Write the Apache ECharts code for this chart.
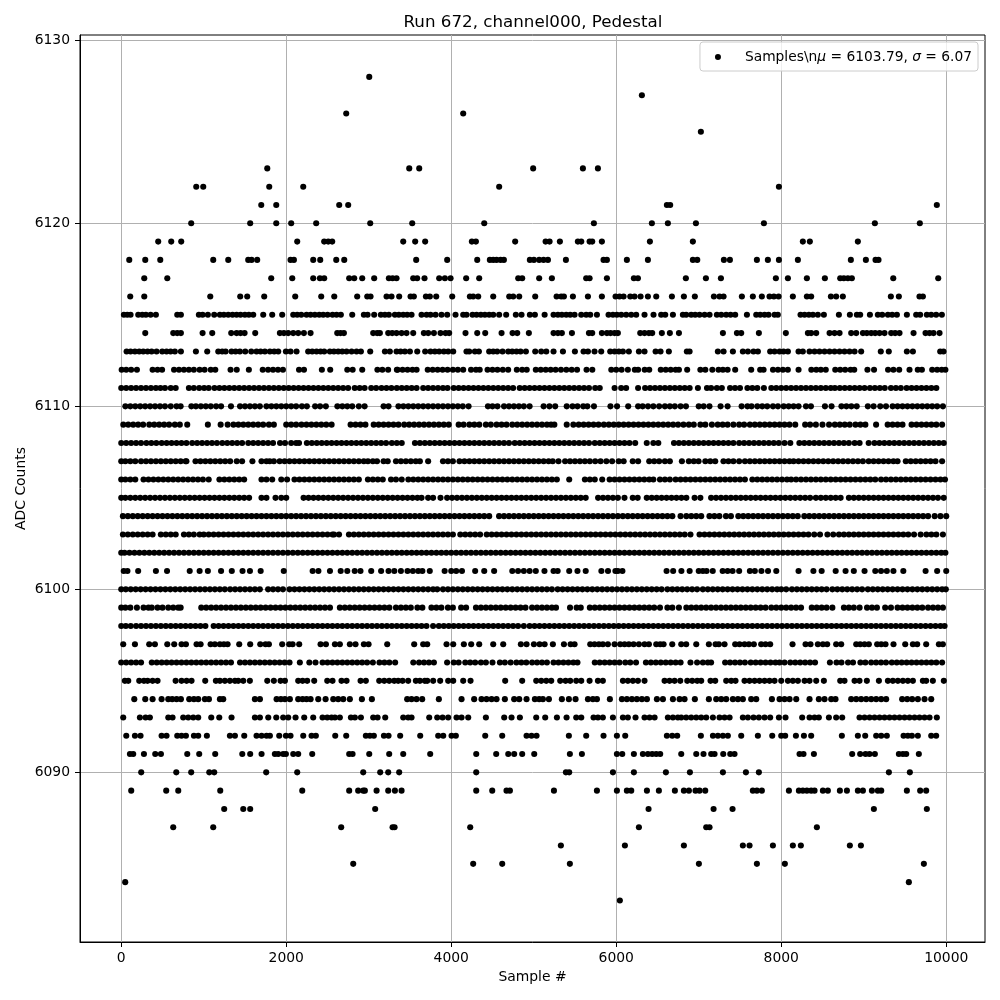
<!DOCTYPE html>
<html lang="en">
<head>
<meta charset="UTF-8">
<title>Run 672 Pedestal</title>
<style>
*{margin:0;padding:0}
#chart{width:1000px;height:1000px}
</style>
</head>
<body>
<div id="chart"></div>
<script src="https://cdn.jsdelivr.net/npm/echarts@6/dist/echarts.min.js"></script>
<script>
var xTicks = [0,2000,4000,6000,8000,10000];
var yTicks = [6090,6100,6110,6120,6130];

// sample numbers, one list per ADC level
var s6128 = [3006];
var s6127 = [6311];
var s6126 = [2727,4145];
var s6125 = [7026];
var s6123 = [1770,3491,3612,4993,5596,5778];
var s6122 = [909,994,1794,2206,4581,7972];
var s6121 = [1697,1879,2642,2751,6614,6654,9886];
var s6120 = [848,1563,1879,2060,2363,3018,3527,4400,5729,6432,6626,6966,7790,9135,9680];
var s6119 = [448,606,727,2133,2460,2509,2557,3418,3563,3684,4250,4299,4775,5144,5192,5317,5535,5576,5677,5709,5826,6408,6929,8262,8347,8929];
var s6118 = [97,291,473,1115,1297,1539,1580,1648,2052,2093,2327,2412,2606,2703,3575,3951,4315,4468,4509,4549,4598,4638,4953,5002,5066,5119,5172,5390,5846,5887,6129,6384,6929,6982,7305,7378,7705,7838,7972,8202,8844,9026,9143,9179];
var s6117 = [279,558,1818,2073,2327,2408,2460,2763,2824,2921,3066,3244,3289,3337,3539,3587,3676,3854,3923,3992,4181,4339,4812,4860,5066,5220,5636,5677,5887,6214,6263,6844,7087,7269,7935,8081,8311,8529,8715,8759,8808,8856,9358,9903];
var s6116 = [109,279,1079,1442,1527,1733,2109,2424,2582,2860,2982,3022,3216,3276,3369,3507,3547,3693,3741,3818,4012,4226,4266,4327,4509,4703,4751,4824,5018,5277,5333,5366,5475,5657,5826,5992,6040,6089,6170,6222,6295,6384,6485,6675,6820,6953,7184,7252,7301,7523,7656,7765,7858,7911,7968,8141,8311,8363,8602,8666,8747,9329,9426,9676,9717];
var s6115 = [32,73,113,206,255,299,356,420,679,723,941,986,1050,1127,1196,1244,1297,1349,1398,1446,1499,1547,1600,1721,1830,1951,2085,2133,2182,2246,2295,2347,2400,2448,2501,2561,2610,2662,2800,2941,2986,3066,3147,3196,3244,3317,3365,3418,3466,3519,3640,3701,3749,3810,3882,3951,4052,4145,4185,4258,4307,4359,4408,4460,4509,4581,4666,4783,4852,4953,5014,5132,5240,5293,5341,5394,5442,5495,5576,5636,5685,5766,5907,5960,6008,6061,6121,6182,6242,6343,6452,6545,6594,6687,6808,6848,6909,6957,7010,7071,7131,7220,7273,7333,7386,7442,7584,7697,7745,7798,7846,7919,7959,8234,8283,8335,8384,8444,8517,8699,8832,8917,8957,9075,9171,9224,9293,9345,9402,9523,9636,9684,9765,9818,9878,9947];
var s6114 = [291,630,679,723,986,1103,1333,1398,1446,1495,1624,1923,1972,2024,2085,2145,2214,2295,2618,2658,2699,3054,3103,3135,3236,3285,3337,3398,3458,3539,3668,3721,3790,3870,3931,3975,4173,4315,4412,4610,4743,4800,4941,5240,5293,5341,5463,5669,5709,5826,5887,5931,5980,6020,6291,6343,6396,6436,6553,6650,6760,7293,7463,7515,7729,8056,8323,8363,8424,8586,8646,8707,8848,8909,8990,9038,9091,9139,9192,9252,9333,9381,9434,9604,9749,9798,9846,9919];
var s6113 = [65,113,166,218,267,319,368,428,497,549,598,650,723,905,1042,1176,1224,1265,1337,1386,1438,1503,1576,1640,1689,1741,1802,1854,1903,1996,2052,2125,2266,2315,2367,2416,2460,2529,2578,2630,2679,2731,2792,2852,2905,3018,3196,3256,3337,3386,3438,3499,3588,3684,3749,3802,3854,3911,3963,4024,4185,4218,4287,4335,4460,4509,4557,4622,4691,4739,4791,4840,4905,5018,5091,5152,5240,5354,5499,5604,5657,5737,5818,5927,5980,6032,6081,6153,6275,6343,6477,6537,6638,6856,6889,7232,7301,7414,7535,7596,7664,7717,7866,7919,7980,8028,8081,8210,8262,8343,8404,8464,8525,8586,8646,8707,8767,8828,8889,8969,9207,9304,9523,9596,9927,9967];
var s6112 = [5,60,120,190,380,440,495,640,700,760,820,880,950,1010,1085,1140,1325,1400,1547,1715,1780,1840,1900,1960,2155,2215,2432,2533,2740,2805,2921,3105,3165,3235,3341,3350,3410,3470,3530,3580,3715,3775,3835,3895,3955,4020,4080,4145,4240,4300,4345,4440,4500,4560,4625,4690,4795,4860,4915,5025,5085,5145,5205,5265,5330,5395,5460,5525,5640,5710,5940,6000,6065,6141,6225,6265,6345,6400,6540,6600,6660,6720,6760,6860,7020,7080,7165,7240,7293,7350,7442,7636,7745,7786,7900,7960,8020,8080,8210,8365,8425,8480,8540,8655,8715,8775,8840,8885,9045,9125,9295,9360,9430,9555,9655,9705,9830,9890,9945,9990];
var s6111 = [0,60,120,180,240,300,360,420,475,530,600,660,820,880,945,1005,1060,1130,1190,1250,1310,1370,1430,1490,1550,1610,1670,1730,1790,1850,1910,1970,2030,2090,2150,2210,2270,2330,2390,2450,2510,2570,2630,2690,2750,2830,2890,2950,3030,3090,3155,3215,3275,3340,3400,3460,3520,3580,3660,3720,3780,3840,3900,3955,4030,4090,4150,4210,4270,4330,4390,4450,4510,4570,4630,4690,4750,4830,4890,4950,5010,5070,5130,5190,5250,5310,5370,5430,5490,5550,5610,5670,5745,5800,5980,6060,6120,6265,6350,6410,6470,6530,6590,6650,6710,6770,6830,6890,6990,7100,7150,7220,7280,7380,7440,7500,7590,7650,7710,7790,7880,7940,8000,8060,8120,8180,8240,8300,8360,8420,8480,8540,8600,8650,8710,8770,8830,8890,8950,9010,9075,9135,9195,9255,9330,9390,9450,9520,9580,9640,9700,9760,9820,9880];
var s6110 = [50,110,170,230,290,350,410,470,530,600,670,720,850,905,965,1025,1085,1150,1210,1330,1440,1500,1560,1620,1680,1760,1820,1880,1940,2000,2060,2120,2190,2250,2350,2410,2480,2620,2680,2740,2800,2880,2950,3180,3240,3360,3420,3480,3540,3600,3660,3720,3780,3840,3900,3960,4020,4080,4140,4210,4445,4500,4560,4640,4700,4760,4820,4880,4950,5120,5190,5260,5400,5470,5530,5600,5650,5730,5930,6010,6145,6265,6320,6385,6450,6520,6590,6650,6710,6780,6845,7000,7060,7130,7265,7350,7520,7590,7640,7710,7770,7830,7900,7960,8030,8090,8150,8210,8300,8360,8530,8610,8730,8790,8850,8915,9050,9120,9200,9270,9350,9410,9470,9530,9590,9650,9710,9770,9830,9890,9960];
var s6109 = [25,85,145,205,265,340,400,460,520,580,650,710,800,1050,1205,1290,1360,1420,1480,1540,1600,1660,1720,1790,1850,2000,2060,2120,2185,2245,2305,2365,2425,2485,2550,2780,2840,2900,2960,3060,3120,3180,3240,3300,3360,3430,3490,3550,3610,3670,3730,3790,3850,3910,3970,4090,4150,4220,4280,4340,4420,4480,4550,4610,4670,4740,4800,4860,4920,4980,5040,5100,5160,5210,5250,5400,5480,5545,5605,5665,5725,5785,5850,5910,5970,6030,6090,6150,6210,6270,6330,6390,6450,6510,6570,6630,6690,6750,6815,6880,6940,7020,7080,7160,7230,7290,7350,7420,7490,7550,7620,7680,7740,7800,7860,7920,7980,8040,8100,8170,8290,8350,8420,8500,8580,8650,8710,8770,8830,8900,8960,9020,9150,9290,9350,9410,9470,9580,9640,9700,9760,9820,9880,9950];
var s6108 = [0,60,120,180,240,305,365,425,490,550,610,670,730,790,860,920,980,1040,1100,1160,1225,1285,1345,1405,1465,1540,1600,1660,1720,1780,1840,1925,1985,2060,2120,2155,2250,2310,2370,2430,2490,2550,2610,2670,2730,2790,2850,2910,2970,3030,3090,3150,3210,3280,3340,3400,3560,3620,3680,3740,3800,3860,3920,3980,4040,4100,4160,4220,4280,4340,4400,4460,4520,4580,4640,4700,4770,4830,4890,4950,5010,5070,5130,5190,5250,5310,5370,5430,5490,5550,5610,5670,5740,5800,5860,5920,5980,6040,6100,6160,6230,6370,6450,6510,6700,6760,6820,6880,6940,7000,7060,7120,7180,7240,7300,7360,7420,7490,7550,7610,7670,7730,7790,7850,7910,7970,8040,8110,8220,8280,8340,8400,8460,8520,8580,8640,8700,8760,8820,8890,8950,9060,9130,9190,9250,9310,9370,9430,9490,9550,9610,9670,9730,9790,9850,9910,9970];
var s6107 = [0,50,110,170,240,300,360,420,480,540,600,660,720,780,790,900,960,1020,1080,1140,1200,1260,1320,1400,1465,1590,1700,1760,1800,1850,1920,1980,2040,2100,2160,2220,2280,2340,2400,2460,2520,2580,2640,2700,2760,2820,2880,2940,2990,3050,3100,3180,3230,3330,3390,3450,3510,3570,3620,3720,3900,3960,4020,4100,4160,4220,4280,4340,4400,4460,4520,4580,4640,4700,4760,4820,4880,4940,5000,5060,5120,5180,5230,5300,5380,5440,5500,5560,5620,5680,5745,5810,5880,5950,6030,6090,6200,6265,6400,6460,6520,6590,6650,6796,6880,6940,6998,7080,7140,7200,7300,7360,7420,7490,7560,7620,7680,7740,7800,7860,7920,7980,8040,8100,8150,8210,8270,8330,8390,8450,8510,8570,8630,8690,8750,8810,8870,8930,8990,9060,9120,9180,9240,9300,9360,9410,9510,9570,9630,9690,9750,9810,9870,9950];
var s6106 = [0,50,110,170,270,330,390,450,510,570,630,690,750,810,870,930,990,1060,1190,1250,1310,1370,1430,1490,1700,1760,1830,1940,2010,2100,2160,2220,2280,2340,2400,2460,2520,2580,2640,2700,2760,2820,2880,2990,3050,3110,3170,3270,3330,3400,3480,3540,3600,3660,3720,3780,3840,3900,3960,4020,4080,4140,4200,4260,4320,4380,4440,4500,4560,4620,4680,4740,4800,4860,4920,4980,5040,5100,5160,5220,5280,5430,5620,5680,5740,5830,5920,5980,6040,6100,6160,6220,6280,6340,6400,6450,6530,6590,6650,6720,6780,6840,6900,6960,7020,7080,7140,7200,7260,7320,7380,7440,7500,7560,7650,7710,7770,7830,7890,7950,8010,8070,8120,8180,8240,8300,8360,8420,8480,8540,8600,8660,8720,8780,8840,8900,8960,9020,9080,9140,9210,9270,9330,9390,9450,9510,9570,9630,9690,9750,9810,9870,9930,9985];
var s6105 = [0,50,110,170,230,290,350,410,470,530,590,650,710,770,830,890,950,1010,1070,1130,1190,1250,1310,1370,1430,1490,1550,1700,1760,1870,1940,2000,2210,2270,2330,2390,2450,2510,2570,2630,2690,2750,2810,2870,2930,2990,3050,3110,3170,3230,3290,3350,3410,3470,3530,3590,3640,3720,3780,3870,3950,4010,4070,4130,4190,4250,4310,4370,4430,4490,4550,4610,4670,4730,4790,4850,4910,4970,5030,5090,5150,5210,5270,5330,5390,5450,5510,5570,5630,5780,5840,5900,5960,6020,6100,6200,6260,6370,6430,6490,6550,6610,6670,6730,6790,6850,6950,7020,7150,7210,7270,7330,7390,7450,7510,7570,7630,7690,7750,7810,7870,7930,7990,8050,8110,8170,8230,8290,8350,8420,8480,8540,8600,8660,8720,8820,8880,8940,9000,9060,9120,9180,9240,9300,9360,9420,9480,9540,9600,9660,9720,9780,9840,9900,9970];
var s6104 = [20,80,140,200,260,320,380,440,500,560,620,680,740,800,860,920,980,1040,1100,1160,1220,1280,1340,1400,1460,1520,1580,1640,1700,1760,1820,1880,1940,2000,2060,2120,2180,2240,2300,2360,2420,2480,2540,2600,2660,2720,2780,2840,2900,2960,3020,3080,3140,3200,3260,3320,3380,3440,3500,3560,3620,3680,3740,3800,3860,3920,3980,4040,4100,4160,4220,4280,4340,4400,4460,4580,4640,4700,4760,4820,4880,4940,5000,5060,5120,5180,5240,5300,5360,5420,5480,5540,5600,5660,5720,5780,5840,5900,5960,6020,6080,6140,6200,6260,6320,6380,6440,6500,6560,6620,6680,6780,6850,6910,6970,7030,7130,7190,7250,7330,7390,7480,7540,7600,7660,7720,7780,7840,7900,7960,8020,8080,8140,8200,8280,8340,8400,8460,8520,8580,8640,8700,8760,8820,8880,8940,9000,9060,9120,9180,9240,9300,9360,9420,9480,9540,9600,9660,9720,9780,9860,9930,10000];
var s6103 = [20,80,140,200,260,320,380,480,540,600,660,760,820,880,950,1000,1060,1120,1180,1240,1300,1360,1420,1480,1540,1600,1660,1720,1780,1840,1900,1960,2020,2080,2140,2200,2260,2320,2380,2440,2500,2560,2580,2640,2760,2820,2880,2940,3000,3060,3120,3180,3240,3300,3360,3420,3480,3540,3600,3660,3720,3780,3840,3900,3960,4020,4110,4170,4230,4290,4350,4430,4490,4550,4610,4670,4730,4790,4850,4910,4970,5030,5090,5150,5210,5270,5330,5390,5450,5510,5570,5630,5690,5750,5810,5870,5930,5990,6050,6110,6170,6230,6290,6350,6410,6470,6530,6590,6650,6710,6770,6830,6900,7010,7070,7130,7190,7250,7310,7370,7430,7490,7550,7610,7670,7730,7790,7850,7910,7970,8030,8090,8150,8210,8270,8330,8400,8470,8560,8630,8700,8760,8820,8880,8940,9000,9060,9120,9180,9240,9300,9360,9420,9480,9540,9610,9690,9760,9820,9880,9960];
var s6102 = [0,40,100,160,220,280,340,400,460,520,580,640,700,760,820,880,940,1000,1060,1120,1180,1240,1300,1360,1420,1480,1540,1600,1660,1720,1780,1840,1900,1960,2020,2080,2140,2200,2260,2320,2380,2440,2500,2560,2620,2680,2740,2800,2860,2920,2980,3040,3100,3160,3220,3280,3340,3400,3460,3520,3580,3640,3700,3760,3820,3880,3940,4000,4060,4120,4180,4240,4300,4360,4420,4480,4540,4600,4660,4720,4780,4840,4900,4960,5020,5080,5140,5200,5260,5320,5380,5440,5500,5560,5620,5680,5740,5800,5860,5920,5980,6040,6100,6160,6220,6280,6340,6400,6460,6520,6580,6640,6700,6760,6820,6880,6940,7000,7060,7120,7180,7240,7300,7360,7420,7480,7540,7600,7660,7720,7780,7840,7900,7960,8020,8080,8140,8200,8260,8320,8380,8440,8500,8560,8620,8680,8740,8800,8860,8920,8980,9040,9100,9160,9220,9280,9340,9400,9460,9520,9580,9640,9700,9760,9820,9880,9940,9990];
var s6101 = [30,75,205,420,555,830,950,1050,1210,1340,1470,1560,1690,1970,2320,2390,2530,2660,2740,2830,2900,3030,3150,3240,3310,3390,3470,3535,3600,3650,3740,3920,4000,4060,4130,4290,4400,4520,4740,4810,4880,4950,5025,5130,5240,5290,5430,5530,5630,5820,5900,5990,6020,6075,6610,6690,6790,6890,7000,7050,7095,7170,7290,7350,7410,7490,7620,7680,7760,7840,7940,8210,8390,8490,8660,8780,8880,9010,9140,9210,9280,9360,9480,9750,9890,10000];
var s6100 = [0,55,115,175,235,295,355,415,475,535,595,655,715,775,835,895,955,1015,1075,1135,1195,1255,1320,1380,1440,1500,1560,1620,1680,1780,1840,1900,1960,2040,2100,2160,2220,2280,2340,2400,2460,2520,2580,2640,2700,2760,2820,2880,2940,3000,3060,3120,3180,3240,3300,3360,3420,3480,3540,3600,3660,3720,3780,3830,3900,3960,4020,4080,4140,4200,4260,4320,4380,4440,4500,4560,4620,4680,4740,4800,4860,4920,4980,5040,5100,5160,5220,5290,5350,5410,5470,5530,5590,5650,5710,5770,5830,5890,5950,6010,6070,6130,6190,6250,6310,6370,6430,6490,6550,6620,6680,6740,6800,6860,6920,6980,7050,7110,7170,7230,7290,7350,7410,7470,7530,7590,7650,7710,7770,7830,7890,7950,8000,8060,8130,8190,8250,8310,8370,8430,8490,8550,8620,8680,8740,8800,8860,8920,8980,9050,9110,9170,9230,9290,9350,9410,9470,9530,9590,9650,9710,9770,9830,9890,9950,9995];
var s6099 = [0,50,110,190,270,330,370,440,500,570,630,690,720,970,1030,1090,1150,1210,1270,1330,1390,1450,1510,1570,1630,1690,1750,1810,1870,1930,1990,2050,2110,2170,2230,2290,2350,2410,2470,2530,2650,2710,2770,2830,2890,2950,3010,3070,3130,3190,3250,3330,3390,3450,3510,3590,3650,3760,3820,3880,3960,4020,4120,4180,4300,4360,4420,4480,4540,4600,4660,4720,4780,4840,4900,4980,5040,5100,5160,5220,5270,5440,5520,5570,5680,5740,5800,5860,5920,5980,6040,6100,6160,6220,6280,6340,6400,6460,6530,6620,6680,6760,6850,6910,6970,7030,7090,7150,7210,7270,7330,7390,7450,7510,7570,7630,7690,7750,7810,7880,7940,8000,8060,8120,8180,8240,8370,8430,8490,8550,8620,8760,8820,8880,8950,9040,9100,9160,9260,9330,9410,9470,9530,9590,9650,9710,9780,9840,9900,9960];
var s6098 = [0,55,115,180,240,300,360,420,480,540,600,660,720,780,840,900,960,1020,1120,1180,1240,1300,1360,1420,1480,1540,1600,1660,1720,1780,1840,1900,1960,2020,2080,2140,2200,2260,2320,2380,2440,2500,2560,2620,2680,2740,2800,2860,2920,2980,3040,3100,3160,3220,3280,3340,3400,3460,3520,3580,3640,3700,3780,3850,3910,3970,4030,4090,4150,4210,4270,4330,4390,4450,4510,4570,4630,4690,4750,4810,4880,4950,5010,5070,5130,5190,5250,5310,5370,5430,5490,5550,5610,5670,5730,5790,5850,5910,5970,6030,6090,6150,6210,6270,6330,6390,6450,6510,6570,6630,6690,6750,6810,6870,6930,6990,7050,7110,7170,7230,7290,7350,7410,7470,7530,7590,7650,7710,7770,7830,7890,7950,8010,8070,8130,8190,8250,8310,8370,8430,8490,8550,8610,8670,8730,8790,8850,8910,8970,9030,9090,9150,9210,9270,9330,9390,9450,9510,9570,9630,9690,9750,9810,9870,9930,9980];
var s6097 = [24,166,339,408,558,642,731,784,913,962,1083,1135,1196,1244,1289,1430,1563,1685,1749,1790,1951,2036,2077,2157,2416,2481,2590,2650,2771,2840,2941,2998,3224,3551,3660,3709,3943,4024,4153,4242,4339,4509,4630,4844,4913,5002,5071,5132,5232,5366,5447,5495,5685,5737,5790,5838,5899,5980,6048,6101,6153,6210,6275,6343,6396,6485,6533,6574,6679,6788,6848,6970,7123,7204,7244,7313,7442,7495,7555,7608,7668,7757,7810,7866,8137,8295,8355,8444,8505,8557,8666,8727,8909,8957,9010,9062,9163,9212,9264,9361,9503,9596,9648,9757,9911,9959];
var s6096 = [0,60,120,180,240,370,430,490,550,610,670,730,790,850,910,970,1030,1090,1150,1210,1270,1330,1440,1500,1560,1620,1680,1740,1800,1860,1920,1980,2040,2165,2280,2355,2440,2500,2560,2620,2680,2740,2800,2860,2920,2980,3050,3130,3190,3250,3320,3540,3610,3670,3730,3790,3950,4030,4090,4170,4230,4290,4360,4420,4500,4590,4650,4720,4790,4850,4910,4980,5040,5100,5160,5240,5300,5360,5420,5480,5530,5740,5800,5860,5920,5980,6040,6110,6170,6240,6360,6420,6480,6540,6600,6660,6720,6780,6900,6980,7050,7110,7150,7320,7380,7440,7500,7560,7630,7690,7750,7810,7870,7930,7980,8040,8110,8170,8230,8290,8350,8410,8590,8670,8730,8810,8870,8960,9020,9090,9150,9210,9270,9340,9400,9460,9520,9580,9640,9700,9760,9820,9880,9950];
var s6095 = [44,85,218,275,319,380,440,659,731,792,852,1018,1147,1196,1256,1317,1378,1418,1479,1559,1770,1850,1931,1984,2145,2198,2254,2339,2497,2561,2670,2731,2901,2965,3127,3188,3248,3309,3357,3410,3478,3571,3620,3680,3709,3781,3866,3963,4024,4145,4234,4654,4860,5030,5091,5152,5212,5321,5386,5442,5515,5576,5677,5778,5838,6081,6141,6202,6263,6343,6586,6646,6707,6776,6861,6921,6982,7030,7143,7200,7333,7394,7446,7555,7616,7677,7737,7798,7858,7919,8000,8081,8141,8202,8283,8343,8424,8517,8715,8767,8889,8949,9038,9184,9293,9353,9414,9475,9535,9596,9717,9757,9838,9971];
var s6094 = [158,291,380,489,570,618,671,723,824,881,933,1014,1063,1196,1236,1620,1681,1883,1935,1984,2044,2145,2198,2246,2295,2388,2477,2570,2630,2691,2771,2917,3038,3466,3519,3579,3648,3850,4125,4278,4367,4428,4489,4549,4650,4763,4824,4913,5014,5066,5111,5184,5341,5426,5507,5657,5717,5766,5923,6069,6129,6190,6250,6311,6372,6493,6566,6687,6768,6828,6953,7123,7212,7273,7333,7414,7475,7535,7636,7697,7887,7980,8040,8101,8182,8343,8456,8525,8606,8658,8848,8909,8969,9030,9091,9151,9212,9272,9466,9527,9587,9656,9737,9818];
var s6093 = [24,226,295,347,570,622,751,812,873,933,1091,1188,1337,1620,1681,1782,1879,1963,2024,2113,2218,2327,2440,2497,2549,2590,2650,2784,2832,2905,3054,3107,3200,3418,3478,3519,3733,3830,3895,3963,4064,4125,4206,4420,4642,4731,4832,5030,5139,5281,5398,5515,5576,5725,5778,5838,5960,6081,6141,6234,6343,6404,6465,6626,6687,6747,6788,6848,6909,6970,7030,7091,7172,7252,7313,7374,7535,7596,7664,7729,7798,7866,7972,8052,8254,8343,8404,8456,8578,8666,8739,8949,9010,9071,9131,9192,9252,9313,9373,9434,9495,9555,9616,9676,9737,9798,9886];
var s6092 = [61,166,234,489,549,679,731,784,881,933,1038,1317,1378,1491,1640,1701,1761,1802,1915,1996,2052,2206,2307,2359,2594,2727,2965,3014,3062,3184,3240,3381,3624,3842,3903,4004,4056,4412,4618,4913,4973,5034,5426,5636,5846,6008,6109,6614,6679,6739,7026,7172,7232,7293,7353,7515,7717,7891,8000,8048,8178,8275,8363,8735,8929,9018,9151,9212,9280,9483,9535,9584,9656,9818,9878];
var s6091 = [105,145,275,412,481,800,945,1139,1467,1563,1701,1862,1903,1963,1996,2085,2145,2315,2763,2804,3006,3248,3418,3745,4303,4545,4691,4763,4860,5006,5438,5584,6008,6073,6214,6323,6384,6436,6485,6533,6788,6970,7058,7151,7192,7297,7382,7434,8222,8270,8396,8860,8957,9022,9070,9135,9426,9475,9515,9668];
var s6090 = [242,667,848,1067,1127,1757,2133,2933,3139,3236,3369,4303,5390,5430,5960,6214,6602,6893,7293,7572,7729,9305,9559];
var s6089 = [121,545,691,1200,2194,2763,2872,2933,2953,3095,3236,3317,3398,4303,4497,4670,4711,5245,5766,6008,6129,6182,6372,6517,6711,6820,6881,6961,7010,7079,7656,7705,7765,8093,8214,8262,8311,8363,8404,8505,8565,8711,8796,8929,8990,9099,9171,9212,9523,9684,9757];
var s6088 = [1248,1479,1563,3078,6392,7180,7410,9123,9765];
var s6087 = [630,1115,2666,3289,3313,4230,6275,7091,7131,8432];
var s6086 = [5329,6105,6820,7535,7616,7899,8141,8238,8832,8966];
var s6085 = [2812,4266,4618,5438,7002,7705,8044,9729];
var s6084 = [48,9547];
var s6083 = [6044];

var levels = [6128,6127,6126,6125,6123,6122,6121,6120,6119,6118,6117,6116,6115,6114,6113,6112,6111,6110,6109,6108,6107,6106,6105,6104,6103,6102,6101,6100,6099,6098,6097,6096,6095,6094,6093,6092,6091,6090,6089,6088,6087,6086,6085,6084,6083];
var samplesByLevel = [s6128,s6127,s6126,s6125,s6123,s6122,s6121,s6120,s6119,s6118,s6117,s6116,s6115,s6114,s6113,s6112,s6111,s6110,s6109,s6108,s6107,s6106,s6105,s6104,s6103,s6102,s6101,s6100,s6099,s6098,s6097,s6096,s6095,s6094,s6093,s6092,s6091,s6090,s6089,s6088,s6087,s6086,s6085,s6084,s6083];

var points = [];
levels.forEach(function(level, i){
	samplesByLevel[i].forEach(function(x){
		points.push([x, level]);
	});
});

var FONT = '"DejaVu Sans"';
var chart = echarts.init(document.getElementById('chart'), null, {renderer: 'canvas'});
chart.setOption({
	animation: false,
	backgroundColor: '#fff',
	textStyle: {fontFamily: FONT},
	title: {
		text: 'Run 672, channel000, Pedestal',
		left: 528, top: 9, textAlign: 'center',
		textStyle: {fontSize: 16.7, fontWeight: 'normal', color: '#000', fontFamily: FONT}
	},
	grid: {left: 80, right: 15, top: 35, bottom: 58, outerBoundsMode: 'none', show: true, borderColor: '#000', borderWidth: 1, backgroundColor: 'transparent'},
	legend: {
		right: 22, top: 42,
		padding: [8, 6, 7, 15],
		itemWidth: 28, itemHeight: 6, itemGap: 0,
		backgroundColor: 'rgba(255,255,255,0.8)',
		borderColor: '#ccc', borderWidth: 1, borderRadius: 3,
		data: [{name: 'Samples', icon: 'circle'}],
		formatter: function(){
			return '{p|}{a|Samples\\n}{i|\u03bc}{a| = 6103.79, }{i|\u03c3}{a| = 6.07}';
		},
		textStyle: {
			rich: {
				p: {width: 8},
				a: {fontSize: 13.8, color: '#000', fontFamily: FONT},
				i: {fontSize: 13.8, color: '#000', fontFamily: FONT, fontStyle: 'italic'}
			}
		}
	},
	xAxis: {
		type: 'value', min: -500, max: 10470,
		name: 'Sample #', nameLocation: 'middle', nameGap: 28, nameMoveOverlap: false,
		nameTextStyle: {fontSize: 13.9, color: '#000', fontFamily: FONT},
		axisLine: {show: true, onZero: false, lineStyle: {color: '#000', width: 1}},
		axisTick: {show: true, length: 5, customValues: xTicks, lineStyle: {color: '#000', width: 1}},
		axisLabel: {customValues: xTicks, fontSize: 13.9, color: '#000', margin: 9, fontFamily: FONT, formatter: function(v){return String(v);}},
		splitLine: {show: true, lineStyle: {color: '#b0b0b0', width: 1}}
	},
	yAxis: {
		type: 'value', min: 6080.73, max: 6130.29,
		name: 'ADC Counts', nameLocation: 'middle', nameGap: 52, nameMoveOverlap: false,
		nameTextStyle: {fontSize: 13.9, color: '#000', fontFamily: FONT},
		axisLine: {show: true, onZero: false, lineStyle: {color: '#000', width: 1}},
		axisTick: {show: true, length: 5, customValues: yTicks, lineStyle: {color: '#000', width: 1}},
		axisLabel: {customValues: yTicks, fontSize: 13.9, color: '#000', margin: 10, fontFamily: FONT, formatter: function(v){return String(v);}},
		splitLine: {show: true, lineStyle: {color: '#b0b0b0', width: 1}}
	},
	series: [{
		name: 'Samples',
		type: 'scatter',
		symbol: 'circle',
		symbolSize: 6.1,
		itemStyle: {color: '#000', opacity: 1},
		silent: true,
		data: points
	}]
});
</script>
</body>
</html>
